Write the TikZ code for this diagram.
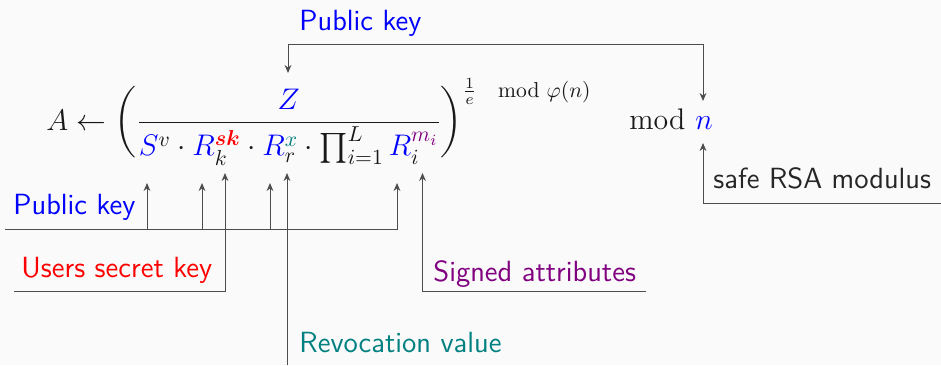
\documentclass[tikz,border=0pt]{standalone}
\usepackage{fix-cm}
\usepackage{amsmath,amssymb}
\usepackage{xcolor}
\usepackage{tikz}
\usetikzlibrary{arrows.meta,positioning,calc}
\DeclareMathSizes{14.9}{14.9}{10.8}{7.8}
\definecolor{keyblue}{HTML}{0000FF}
\definecolor{secretred}{HTML}{FF0000}
\definecolor{revteal}{HTML}{008080}
\definecolor{attrpurple}{HTML}{800080}
\definecolor{wiregray}{HTML}{4D4D4D}
\definecolor{slidebg}{HTML}{FAFAFA}

\begin{document}
\begin{tikzpicture}[x=0.5pt, y=-0.5pt,
    lbl/.style={anchor=base west, inner sep=0pt, font=\fontsize{14.6}{17}\selectfont\sffamily},
    math_part/.style={anchor=base west, inner sep=0pt, font=\fontsize{14.9}{18}\selectfont, text=black!90},
    wire/.style={draw=wiregray, line width=0.5pt},
    wire_arrow/.style={wire, -{Stealth[length=4pt, width=3.4pt]}}
]
    \fill[slidebg] (0,0) rectangle (941,365);
    \useasboundingbox (0,0) rectangle (941,365);

    % Formula
    \node[math_part] (formula) at (46,130) {$A \leftarrow \bigg(\dfrac{{\color{keyblue}Z}}{{\color{keyblue}S}^{v}\cdot{\color{keyblue}R}_{k}^{{\color{secretred}\boldsymbol{sk}}}\cdot{\color{keyblue}R}_{r}^{{\color{revteal}x}}\cdot\prod_{i=1}^{L}{\color{keyblue}R}_{i}^{{\color{attrpurple}m_i}}}\bigg)\raisebox{16.5pt}{$\scriptstyle\frac{1}{e}\mkern18mu\mathrm{mod}\,\,\varphi(n)$}$};
    \node[math_part] (modword) at (629,129) {$\mathrm{mod}$};
    \node[math_part] (nvar) at (695,129) {$\color{keyblue}n$};

    % Labels
    \node[lbl, text=keyblue] (pk_top) at (299,30) {Public key};
    \node[lbl, text=keyblue] (pk_bus) at (13,214) {Public key};
    \node[lbl, text=secretred] (usk) at (21,277) {Users secret key};
    \node[lbl, text=revteal] (rev) at (299,352) {Revocation value};
    \node[lbl, text=attrpurple] (sig) at (433,281) {Signed attributes};
    \node[lbl, text=black!85] (rsa) at (713,188) {safe RSA modulus};

    % Arrow targets and wire ends
    \coordinate (tip_z) at (288,73);
    \coordinate (tip_n_top) at (703,101);
    \coordinate (tip_n_bot) at (703,143);
    \coordinate (tip_s) at (147,183);
    \coordinate (tip_rk) at (202,183);
    \coordinate (tip_sk) at (225,173);
    \coordinate (tip_rr) at (270,183);
    \coordinate (tip_x) at (287,173);
    \coordinate (tip_ri) at (397,183);
    \coordinate (tip_mi) at (422.5,173);
    \coordinate (pk_top_wire) at (288,44);
    \coordinate (bus_start) at (5,229);
    \coordinate (usk_start) at (14,291);
    \coordinate (rev_start) at (287,365);
    \coordinate (sig_start) at (646,291);
    \coordinate (rsa_start) at (941,203);

    % Wires
    \draw[wire, {Stealth[length=4pt, width=3.4pt]}-{Stealth[length=4pt, width=3.4pt]}] (tip_z) -- (tip_z |- pk_top_wire) -| (tip_n_top);
    \draw[wire_arrow] (bus_start) -| (tip_ri);
    \foreach \t in {tip_s, tip_rk, tip_rr}
        \draw[wire_arrow] (\t |- bus_start) -- (\t);
    \draw[wire_arrow] (usk_start) -| (tip_sk);
    \draw[wire_arrow] (rev_start) -- (tip_x);
    \draw[wire_arrow] (sig_start) -| (tip_mi);
    \draw[wire_arrow] (rsa_start) -| (tip_n_bot);
\end{tikzpicture}
\end{document}
